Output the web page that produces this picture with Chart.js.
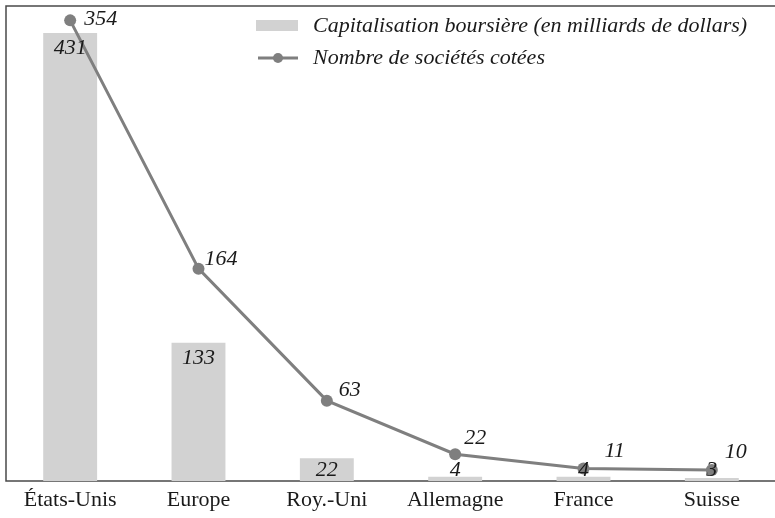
<!DOCTYPE html>
<html>
<head>
<meta charset="utf-8">
<script src="https://cdn.jsdelivr.net/npm/chart.js@4.4.1/dist/chart.umd.min.js"></script>
<style>
  html, body { margin: 0; padding: 0; background: #fff; overflow: hidden; }
  #wrap { width: 782px; height: 518px; }
</style>
</head>
<body>
<div id="wrap"><canvas id="chart" width="782" height="518"></canvas></div>
<script>
const categories = ["États-Unis", "Europe", "Roy.-Uni", "Allemagne", "France", "Suisse"];
const capitalisation = [431, 133, 22, 4, 4, 3];
const societes = [354, 164, 63, 22, 11, 10];

const barLabel = "Capitalisation boursière (en milliards de dollars)";
const lineLabel = "Nombre de sociétés cotées";

// décalage des étiquettes de la courbe (dx, dy) par rapport au point
const lineLabelOffsets = [[14, -1], [6, -9], [12, -10], [9, -16], [21, -17], [13, -18]];

const barColor = "#d2d2d2";
const lineColor = "#7f7f7f";
const textColor = "#1a1a1a";
const serif = '"Liberation Serif", "Times New Roman", Tinos, "DejaVu Serif", serif';

// cadre autour de la zone du graphique
const framePlugin = {
  id: "frame",
  beforeDatasetsDraw(chart) {
    const { ctx, chartArea: a } = chart;
    ctx.save();
    ctx.strokeStyle = "#4a4a4a";
    ctx.lineWidth = 1.5;
    ctx.beginPath();
    ctx.moveTo(a.right, a.top);
    ctx.lineTo(a.left, a.top);
    ctx.lineTo(a.left, a.bottom);
    ctx.lineTo(a.right, a.bottom);
    ctx.stroke();
    ctx.restore();
  },
};

// valeurs écrites sur les barres et à côté des points
const valuesPlugin = {
  id: "values",
  afterDatasetsDraw(chart) {
    const ctx = chart.ctx;
    ctx.save();
    ctx.font = "italic 22px " + serif;
    ctx.fillStyle = textColor;

    const lineMeta = chart.getDatasetMeta(1);
    ctx.textAlign = "left";
    ctx.textBaseline = "middle";
    lineMeta.data.forEach((pt, i) => {
      const [dx, dy] = lineLabelOffsets[i];
      ctx.fillText(String(societes[i]), pt.x + dx, pt.y + dy);
    });

    const barMeta = chart.getDatasetMeta(0);
    ctx.textAlign = "center";
    barMeta.data.forEach((bar, i) => {
      const y = Math.min(bar.y + 15, chart.chartArea.bottom - 11);
      ctx.fillText(String(capitalisation[i]), bar.x, y);
    });
    ctx.restore();
  },
};

// légende dessinée en haut à droite
const legendPlugin = {
  id: "customLegend",
  afterDraw(chart) {
    const ctx = chart.ctx;
    const x0 = 256;
    const rows = [26, 58];
    ctx.save();
    ctx.font = "italic 22px " + serif;
    ctx.textAlign = "left";
    ctx.textBaseline = "middle";

    ctx.fillStyle = barColor;
    ctx.fillRect(x0, rows[0] - 6, 42, 11);
    ctx.fillStyle = textColor;
    ctx.fillText(barLabel, x0 + 57, rows[0]);

    ctx.strokeStyle = lineColor;
    ctx.lineWidth = 3;
    ctx.beginPath();
    ctx.moveTo(x0 + 2, rows[1]);
    ctx.lineTo(x0 + 42, rows[1]);
    ctx.stroke();
    ctx.fillStyle = lineColor;
    ctx.beginPath();
    ctx.arc(x0 + 22, rows[1], 5, 0, Math.PI * 2);
    ctx.fill();
    ctx.fillStyle = textColor;
    ctx.fillText(lineLabel, x0 + 57, rows[1]);
    ctx.restore();
  },
};

function draw() {
  new Chart(document.getElementById("chart"), {
    type: "bar",
    data: {
      labels: categories,
      datasets: [
        {
          label: barLabel,
          data: capitalisation,
          backgroundColor: barColor,
          barPercentage: 0.42,
          categoryPercentage: 1,
          yAxisID: "yBar",
          order: 2,
        },
        {
          label: lineLabel,
          type: "line",
          data: societes,
          borderColor: lineColor,
          backgroundColor: lineColor,
          borderWidth: 3,
          pointRadius: 6,
          pointBackgroundColor: lineColor,
          pointBorderWidth: 0,
          tension: 0,
          fill: false,
          yAxisID: "yLine",
          order: 1,
        },
      ],
    },
    options: {
      responsive: false,
      animation: false,
      layout: { padding: { left: 5, top: 4, right: 0, bottom: 6 } },
      plugins: {
        legend: { display: false },
        tooltip: { enabled: false },
        title: { display: false },
      },
      scales: {
        x: {
          offset: true,
          grid: { display: false, drawTicks: false },
          border: { display: false },
          afterFit: (scale) => { scale.height = 31; },
          ticks: {
            color: textColor,
            padding: 6,
            maxRotation: 0,
            font: { family: serif, size: 22 },
          },
        },
        yBar: { display: false, min: 0, max: 457 },
        yLine: { display: false, min: 1.5, max: 365 },
      },
    },
    plugins: [framePlugin, valuesPlugin, legendPlugin],
  });
}

if (document.fonts && document.fonts.load) {
  Promise.all([
    document.fonts.load('italic 22px "Liberation Serif"'),
    document.fonts.load('22px "Liberation Serif"'),
  ]).then(draw, draw);
} else {
  draw();
}
</script>
</body>
</html>
